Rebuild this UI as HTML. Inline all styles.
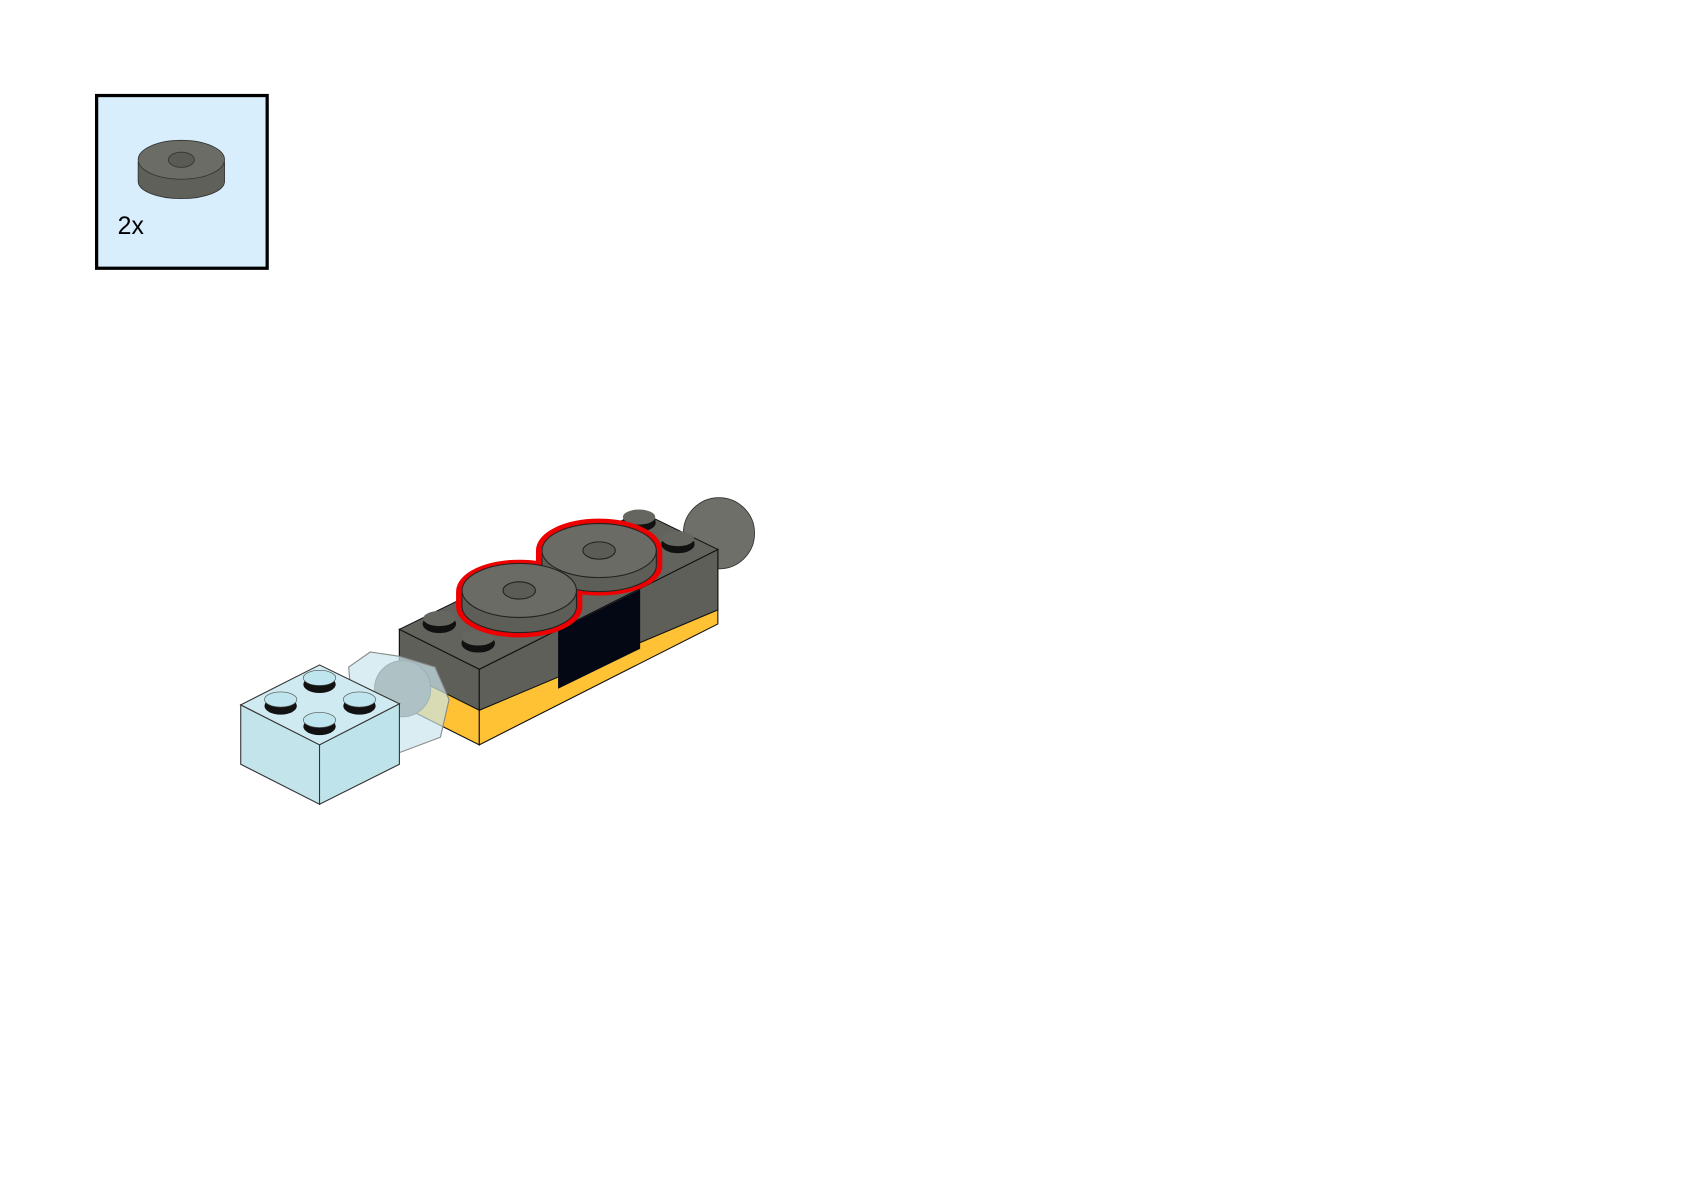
<!DOCTYPE html>
<html><head><style>html,body{margin:0;padding:0;background:#fff;width:1684px;height:1190px;overflow:hidden}</style></head>
<body>
<svg width="1684" height="1190" viewBox="0 0 1560 1102.4" preserveAspectRatio="none" xmlns="http://www.w3.org/2000/svg">
<rect x="0" y="0" width="1560" height="1103" fill="#fff"/>
<rect x="89.5" y="88.5" width="158" height="160" fill="#d8eefd" stroke="#000" stroke-width="3"/>
<path d="M128,150 L128,168 A40,16 0 0 0 208,168 L208,150" fill="#5f605a" stroke="#333" stroke-width="0.8"/>
<ellipse cx="168" cy="148" rx="40" ry="18" fill="#6b6c66" stroke="#333" stroke-width="0.8"/>
<ellipse cx="168" cy="148" rx="12" ry="7" fill="#5a5b55" stroke="#333" stroke-width="0.8"/>
<text x="109" y="217" font-family="Liberation Sans, sans-serif" font-size="23" fill="#000">2x</text>
<g transform="translate(-2,-2)">
<circle cx="668" cy="496" r="33" fill="#6e6f69" stroke="#333" stroke-width="0.8"/>
<polygon points="372,585 446,622 446,692 372,655" fill="#ffc234" stroke="#111"/>
<polygon points="446,622 667,511 667,580 446,692" fill="#ffc234" stroke="#111"/>
<polygon points="372,585 446,622 446,660 372,623" fill="#5e5f59" stroke="#111"/>
<polygon points="446,622 667,511 667,567 446,660" fill="#5e5f59" stroke="#111"/>
<polygon points="519,586 595,548 595,603 519,640" fill="#030814"/>
<polygon points="372,585 446,622 667,511 595,476" fill="#62635d" stroke="#111"/>
<g fill="#111" stroke="#111">
<ellipse cx="409" cy="580" rx="15" ry="8"/><ellipse cx="445" cy="598" rx="15" ry="8"/>
<ellipse cx="594" cy="486" rx="15" ry="8"/><ellipse cx="630" cy="506" rx="15" ry="8"/>
</g>
<g fill="#65665f"><ellipse cx="409" cy="575" rx="15" ry="7"/><ellipse cx="445" cy="593" rx="15" ry="7"/><ellipse cx="594" cy="481" rx="15" ry="7"/><ellipse cx="630" cy="501" rx="15" ry="7"/></g>
<g fill="none" stroke="#e00" stroke-width="5">
<path d="M501,526 L501,512 A56,27 0 0 1 613,512 L613,528 A56,25 0 0 1 540,550"/>
<path d="M427,564 L427,550 A56,27 0 0 1 539,550 L539,564 A56,26 0 0 1 427,564"/>
</g>
<path d="M504,512 L504,526 A53,24 0 0 0 610,526 L610,512" fill="#5d5e58" stroke="#222"/>
<ellipse cx="557" cy="512" rx="53" ry="25" fill="#6a6b65" stroke="#222"/>
<ellipse cx="557" cy="512" rx="15" ry="8" fill="#5b5c56" stroke="#222"/>
<path d="M430,550 L430,564 A53,24 0 0 0 536,564 L536,550" fill="#5d5e58" stroke="#222"/>
<ellipse cx="483" cy="549" rx="53" ry="25" fill="#6a6b65" stroke="#222"/>
<ellipse cx="483" cy="549" rx="15" ry="8" fill="#5b5c56" stroke="#222"/>
<circle cx="375" cy="640" r="26" fill="#6e6f69" stroke="#333" stroke-width="0.8"/>
<path d="M325,620 L345,606 L372,610 L405,620 L418,650 L410,685 L370,700 L330,680 Z" fill="#c9e6ec" fill-opacity="0.7" stroke="#888"/>
<polygon points="225,655 298,692 298,747 225,710" fill="#c2e4ea" stroke="#333"/>
<polygon points="298,692 372,654 372,710 298,747" fill="#bfe3ea" stroke="#333"/>
<polygon points="225,655 298,692 372,654 298,618" fill="#cfeaf0" stroke="#333"/>
<g fill="#111"><ellipse cx="262" cy="656" rx="15" ry="8"/><ellipse cx="298" cy="636" rx="15" ry="8"/><ellipse cx="335" cy="656" rx="15" ry="8"/><ellipse cx="298" cy="675" rx="15" ry="8"/></g>
<g fill="#bfe6ee" stroke="#555" stroke-width="0.6"><ellipse cx="262" cy="650" rx="15" ry="7"/><ellipse cx="298" cy="630" rx="15" ry="7"/><ellipse cx="335" cy="650" rx="15" ry="7"/><ellipse cx="298" cy="669" rx="15" ry="7"/></g>
</g>
</svg>
</body></html>
